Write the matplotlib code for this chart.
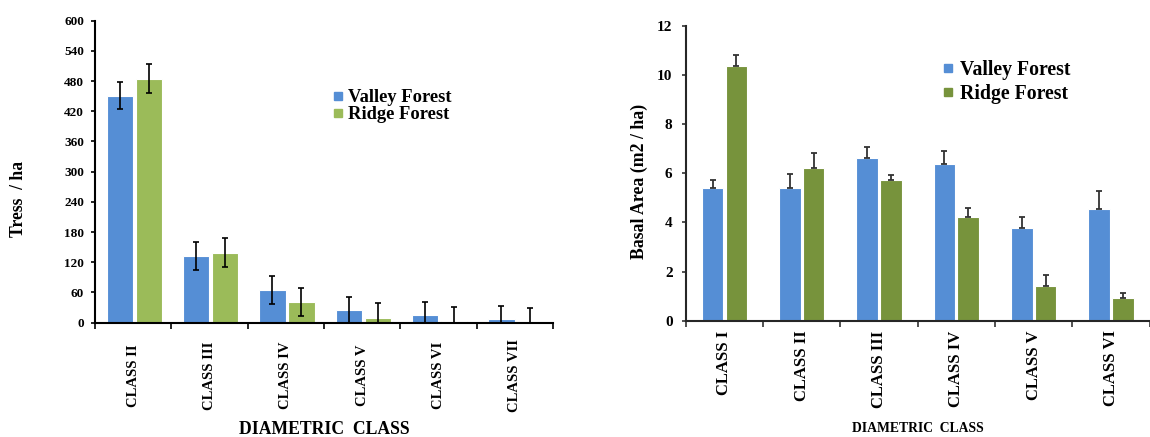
import matplotlib
matplotlib.use('Agg')
import matplotlib.pyplot as plt
import numpy as np
from matplotlib.lines import Line2D

plt.rcParams['font.family'] = ['Liberation Serif', 'DejaVu Serif']
plt.rcParams['font.weight'] = 'bold'

# ---- data: left chart (trees / ha) ----
left_classes = ['CLASS II', 'CLASS III', 'CLASS IV', 'CLASS V', 'CLASS VI', 'CLASS VII']
left_valley = [451, 132, 65, 25, 15, 7]
left_valley_err = [27, 28, 27, 26, 27, 27]
left_ridge = [485, 139, 41, 9, 3, 1]
left_ridge_err = [29, 29, 28, 31, 29, 29]
left_yticks = [0, 60, 120, 180, 240, 300, 360, 420, 480, 540, 600]

# ---- data: right chart (basal area) ----
right_classes = ['CLASS I', 'CLASS II', 'CLASS III', 'CLASS IV', 'CLASS V', 'CLASS VI']
right_valley = [5.40, 5.40, 6.63, 6.38, 3.77, 4.56]
right_valley_err = [0.33, 0.57, 0.43, 0.52, 0.43, 0.71]
right_ridge = [10.35, 6.23, 5.71, 4.22, 1.40, 0.94]
right_ridge_err = [0.44, 0.58, 0.23, 0.35, 0.44, 0.20]
right_yticks = [0, 2, 4, 6, 8, 10, 12]

series_names = ['Valley Forest', 'Ridge Forest']
c_valley = '#558ED5'
c_ridge_left = '#9BBB59'
c_ridge_right = '#77933C'

W, H = 1150, 437
fig = plt.figure(figsize=(W / 100, H / 100), dpi=100)

# ================= LEFT =================
axL = fig.add_axes([95 / W, 1 - 322.7 / H, (553 - 95) / W, (322.7 - 20.7) / H])
x = np.arange(len(left_classes))
bw = 0.345
axL.bar(x - 0.175, left_valley, bw, color=c_valley, edgecolor='white', linewidth=0.8, zorder=2)
axL.bar(x + 0.205, left_ridge, bw, color=c_ridge_left, edgecolor='white', linewidth=0.8, zorder=2)
axL.errorbar(x - 0.175, left_valley, yerr=left_valley_err, fmt='none', ecolor='black',
             elinewidth=1.2, capsize=2.3, capthick=1.2, zorder=3)
axL.errorbar(x + 0.205, left_ridge, yerr=left_ridge_err, fmt='none', ecolor='black',
             elinewidth=1.2, capsize=2.3, capthick=1.2, zorder=3)
axL.set_xlim(-0.5, len(left_classes) - 0.5)
axL.set_ylim(0, 600)
axL.set_yticks(left_yticks)
axL.set_xticks(np.arange(len(left_classes) + 1) - 0.5)
axL.set_xticklabels([])
axL.set_xticks(x, minor=True)
axL.set_xticklabels(left_classes, minor=True, rotation=90, va='center')
axL.tick_params(axis='x', which='minor', length=0, pad=38, labelsize=10.5)
axL.tick_params(axis='x', which='major', length=4, width=1.2, direction='out')
axL.tick_params(axis='y', length=3, width=1.2, direction='out', pad=5, labelsize=9.5)
for s in ['top', 'right']:
    axL.spines[s].set_visible(False)
for s in ['left', 'bottom']:
    axL.spines[s].set_linewidth(1.5)
    axL.spines[s].set_color('black')
axL.set_ylabel('Tress  / ha', fontsize=12.7, fontweight='bold', va='center')
axL.yaxis.set_label_coords(-0.168, 0.41)
axL.set_xlabel('DIAMETRIC  CLASS', fontsize=12.7, fontweight='bold', va='center')
axL.xaxis.set_label_coords(0.5, -0.355)

hL = [Line2D([], [], marker='s', linestyle='none', markersize=5.5, color=c_valley),
      Line2D([], [], marker='s', linestyle='none', markersize=5.5, color=c_ridge_left)]
legL = fig.legend(hL, series_names, loc='upper left', bbox_to_anchor=(333 / W, 1 - 89 / H),
                  frameon=False, handlelength=0.5, handletextpad=0.3,
                  labelspacing=0.0, borderpad=0, borderaxespad=0,
                  prop={'weight': 'bold', 'size': 13.3})

# ================= RIGHT =================
axR = fig.add_axes([685.7 / W, 1 - 320.7 / H, (1149.5 - 685.7) / W, (320.7 - 25.7) / H])
xr = np.arange(len(right_classes))
bwr = 0.28
axR.bar(xr - 0.153, right_valley, bwr, color=c_valley, edgecolor='white', linewidth=0.8, zorder=2)
axR.bar(xr + 0.155, right_ridge, bwr, color=c_ridge_right, edgecolor='white', linewidth=0.8, zorder=2)
axR.errorbar(xr - 0.153, right_valley, yerr=[np.zeros(len(right_valley)), right_valley_err],
             fmt='none', ecolor='#333333', elinewidth=1.3, capsize=2.5, capthick=1.3, zorder=3)
axR.errorbar(xr + 0.155, right_ridge, yerr=[np.zeros(len(right_ridge)), right_ridge_err],
             fmt='none', ecolor='#333333', elinewidth=1.3, capsize=2.5, capthick=1.3, zorder=3)
axR.set_xlim(-0.5, len(right_classes) - 0.5)
axR.set_ylim(0, 12)
axR.set_yticks(right_yticks)
axR.set_xticks(np.arange(len(right_classes) + 1) - 0.5)
axR.set_xticklabels([])
axR.set_xticks(xr, minor=True)
axR.set_xticklabels(right_classes, minor=True, rotation=90, va='top')
axR.tick_params(axis='x', which='minor', length=0, pad=7, labelsize=12)
axR.tick_params(axis='x', which='major', length=4, width=1.2, direction='out', color='#333333')
axR.tick_params(axis='y', length=3, width=1.2, direction='out', pad=6.5, color='#333333',
                labelsize=11)
for s in ['top', 'right']:
    axR.spines[s].set_visible(False)
for s in ['left', 'bottom']:
    axR.spines[s].set_linewidth(1.5)
    axR.spines[s].set_color('#262626')
axR.set_ylabel('Basal Area (m2 / ha)', fontsize=12.8, fontweight='bold', va='center')
axR.yaxis.set_label_coords(-0.1, 0.471)
axR.set_xlabel('DIAMETRIC  CLASS', fontsize=9.8, fontweight='bold', va='center')
axR.xaxis.set_label_coords(0.5, -0.364)

hR = [Line2D([], [], marker='s', linestyle='none', markersize=6, color=c_valley),
      Line2D([], [], marker='s', linestyle='none', markersize=6, color=c_ridge_right)]
legR = fig.legend(hR, series_names, loc='upper left', bbox_to_anchor=(943 / W, 1 - 60 / H),
                  frameon=False, handlelength=0.5, handletextpad=0.35,
                  labelspacing=0.2, borderpad=0, borderaxespad=0,
                  prop={'weight': 'bold', 'size': 14.2})

fig.savefig('out.png', dpi=100)
